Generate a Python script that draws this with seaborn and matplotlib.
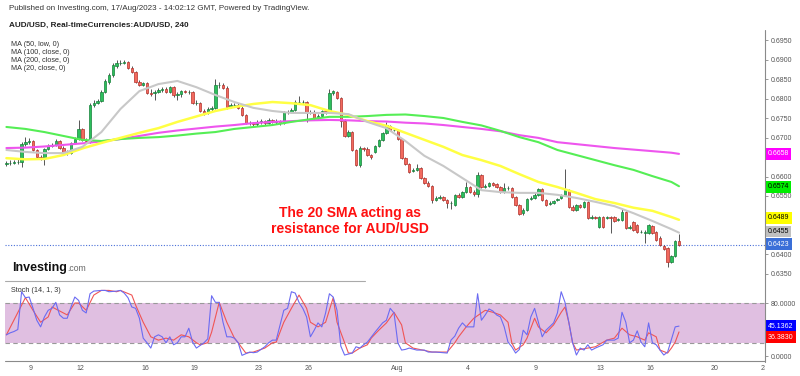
import numpy as np
import matplotlib
matplotlib.use("Agg")
import matplotlib.pyplot as plt
import seaborn as sns
from matplotlib.lines import Line2D
from matplotlib.transforms import blended_transform_factory, Bbox, TransformedBbox

sns.set_theme(style="white")
plt.rcParams['font.family'] = ['Liberation Sans', 'DejaVu Sans']

# AUD/USD 4h candles (7 Jul - 17 Aug 2023)
opens = [
    .6632, .6635, .6635, .6637, .6637, .6683, .6688, .6691, .6668, .6650,
    .6647, .6671, .6678, .6681, .6691, .6673, .6663, .6660, .6686, .6696,
    .6722, .6694, .6688, .6783, .6788, .6794, .6817, .6842, .6860, .6883,
    .6891, .6891, .6894, .6878, .6868, .6842, .6835, .6840, .6814, .6814,
    .6817, .6822, .6824, .6817, .6829, .6809, .6812, .6819, .6817, .6817,
    .6788, .6788, .6768, .6763, .6773, .6776, .6835, .6835, .6827, .6778,
    .6783, .6783, .6776, .6758, .6737, .6737, .6735, .6740, .6742, .6737,
    .6745, .6740, .6742, .6737, .6765, .6765, .6771, .6791, .6791, .6791,
    .6763, .6765, .6750, .6755, .6768, .6765, .6814, .6817, .6801, .6742,
    .6704, .6714, .6668, .6629, .6673, .6671, .6655, .6663, .6678, .6694,
    .6712, .6730, .6719, .6719, .6696, .6647, .6632, .6614, .6617, .6622,
    .6596, .6583, .6576, .6540, .6545, .6547, .6540, .6532, .6527, .6553,
    .6547, .6560, .6573, .6560, .6555, .6604, .6573, .6576, .6583, .6581,
    .6573, .6560, .6571, .6571, .6547, .6527, .6506, .6514, .6542, .6545,
    .6553, .6568, .6540, .6529, .6532, .6540, .6545, .6553, .6565, .6522,
    .6514, .6527, .6522, .6535, .6494, .6496, .6471, .6496, .6494, .6496,
    .6496, .6488, .6488, .6509, .6468, .6483, .6476, .6458, .6455, .6455,
    .6473, .6458, .6442, .6422, .6417, .6381, .6396, .6435]
highs = [
    .6640, .6642, .6642, .6645, .6688, .6701, .6699, .6694, .6671, .6655,
    .6673, .6683, .6686, .6696, .6694, .6678, .6668, .6688, .6701, .6745,
    .6724, .6699, .6788, .6796, .6799, .6822, .6850, .6865, .6891, .6899,
    .6899, .6899, .6896, .6883, .6871, .6847, .6842, .6842, .6824, .6822,
    .6827, .6829, .6829, .6832, .6832, .6817, .6822, .6822, .6822, .6819,
    .6796, .6791, .6773, .6778, .6781, .6850, .6842, .6840, .6832, .6788,
    .6788, .6788, .6781, .6760, .6742, .6740, .6745, .6747, .6745, .6750,
    .6747, .6747, .6745, .6768, .6771, .6776, .6796, .6806, .6796, .6794,
    .6771, .6771, .6760, .6771, .6771, .6824, .6822, .6819, .6804, .6747,
    .6719, .6717, .6671, .6678, .6676, .6676, .6658, .6681, .6696, .6714,
    .6740, .6732, .6724, .6722, .6699, .6650, .6635, .6622, .6632, .6624,
    .6599, .6588, .6578, .6550, .6553, .6550, .6542, .6537, .6555, .6558,
    .6563, .6586, .6576, .6565, .6612, .6606, .6581, .6586, .6586, .6583,
    .6576, .6583, .6576, .6573, .6550, .6529, .6519, .6545, .6550, .6560,
    .6571, .6571, .6542, .6537, .6540, .6545, .6555, .6619, .6568, .6527,
    .6529, .6529, .6537, .6537, .6501, .6499, .6499, .6499, .6499, .6499,
    .6499, .6494, .6517, .6512, .6476, .6486, .6478, .6463, .6463, .6478,
    .6476, .6460, .6447, .6424, .6419, .6399, .6437, .6453]
lows = [
    .6627, .6629, .6632, .6632, .6624, .6678, .6683, .6665, .6645, .6642,
    .6629, .6668, .6676, .6678, .6671, .6660, .6655, .6658, .6683, .6694,
    .6691, .6686, .6686, .6778, .6786, .6791, .6814, .6837, .6855, .6878,
    .6886, .6888, .6876, .6865, .6840, .6832, .6832, .6812, .6806, .6796,
    .6814, .6817, .6814, .6814, .6804, .6796, .6804, .6814, .6812, .6786,
    .6783, .6765, .6758, .6760, .6768, .6773, .6827, .6824, .6773, .6776,
    .6778, .6773, .6755, .6735, .6732, .6730, .6730, .6735, .6732, .6735,
    .6737, .6735, .6732, .6735, .6760, .6763, .6768, .6786, .6786, .6740,
    .6760, .6747, .6747, .6753, .6760, .6763, .6809, .6799, .6727, .6701,
    .6701, .6665, .6627, .6624, .6665, .6653, .6645, .6660, .6676, .6691,
    .6709, .6717, .6717, .6694, .6645, .6629, .6609, .6612, .6614, .6594,
    .6581, .6573, .6532, .6537, .6542, .6537, .6519, .6517, .6524, .6545,
    .6545, .6558, .6558, .6550, .6547, .6571, .6571, .6573, .6576, .6571,
    .6558, .6558, .6565, .6545, .6524, .6501, .6501, .6512, .6540, .6542,
    .6550, .6537, .6524, .6527, .6529, .6537, .6542, .6550, .6519, .6512,
    .6512, .6519, .6519, .6491, .6491, .6491, .6468, .6468, .6491, .6455,
    .6483, .6486, .6486, .6465, .6465, .6460, .6455, .6455, .6429, .6453,
    .6453, .6435, .6422, .6412, .6368, .6378, .6394, .6422]
closes = [
    .6635, .6635, .6637, .6637, .6683, .6688, .6691, .6668, .6650, .6647,
    .6671, .6678, .6681, .6691, .6673, .6663, .6660, .6686, .6696, .6722,
    .6694, .6691, .6783, .6788, .6794, .6817, .6845, .6860, .6886, .6891,
    .6891, .6894, .6878, .6868, .6842, .6835, .6840, .6814, .6812, .6817,
    .6822, .6824, .6817, .6829, .6809, .6812, .6819, .6817, .6817, .6788,
    .6788, .6768, .6763, .6773, .6776, .6835, .6835, .6827, .6778, .6783,
    .6783, .6776, .6758, .6737, .6737, .6735, .6740, .6742, .6737, .6745,
    .6740, .6742, .6737, .6765, .6765, .6771, .6791, .6791, .6791, .6763,
    .6765, .6750, .6755, .6768, .6765, .6814, .6819, .6801, .6742, .6704,
    .6714, .6668, .6629, .6673, .6671, .6655, .6650, .6678, .6694, .6712,
    .6732, .6719, .6719, .6696, .6647, .6632, .6612, .6617, .6622, .6596,
    .6583, .6576, .6540, .6545, .6547, .6540, .6532, .6532, .6553, .6547,
    .6560, .6573, .6560, .6555, .6604, .6573, .6576, .6583, .6578, .6573,
    .6560, .6571, .6571, .6547, .6527, .6504, .6514, .6542, .6545, .6553,
    .6568, .6540, .6527, .6532, .6537, .6542, .6553, .6565, .6522, .6514,
    .6527, .6522, .6535, .6494, .6496, .6494, .6496, .6471, .6496, .6494,
    .6486, .6491, .6509, .6468, .6471, .6463, .6458, .6458, .6458, .6476,
    .6455, .6437, .6424, .6414, .6381, .6396, .6435, .6424]

# moving averages (candle index, price)
ma_idx = [0, 5, 10, 15, 20, 25, 30, 35, 40, 45, 50, 55, 60, 65, 70, 75, 80, 85, 90,
          95, 100, 105, 110, 115, 120, 125, 130, 135, 140, 145, 150, 155, 160, 165,
          170, 175, 177]
ma20 = [.6668, .6663, .6660, .6660, .6676, .6714, .6773, .6819, .6837, .6845,
        .6829, .6809, .6791, .6776, .6768, .6763, .6763, .6763, .6760, .6740,
        .6724, .6691, .6653, .6627, .6596, .6565, .6560, .6558, .6558, .6553,
        .6545, .6535, .6524, .6506, .6486, .6465, .6456]
ma50_low = [.6647, .6644, .6645, .6655, .6672, .6686, .6699, .6712, .6724, .6740,
            .6754, .6768, .6778, .6786, .6791, .6788, .6783, .6768, .6758, .6742,
            .6730, .6712, .6694, .6676, .6655, .6642, .6627, .6606, .6586, .6573,
            .6558, .6542, .6532, .6520, .6512, .6496, .6489]
ma100 = [.6727, .6722, .6714, .6704, .6694, .6691, .6696, .6699, .6701, .6705,
         .6710, .6714, .6722, .6727, .6732, .6740, .6747, .6753, .6753, .6755,
         .6758, .6759, .6755, .6750, .6740, .6731, .6717, .6701, .6688, .6668,
         .6655, .6642, .6629, .6617, .6601, .6586, .6575]
ma200 = [.6673, .6674, .6677, .6681, .6685, .6690, .6696, .6704, .6712, .6718,
         .6723, .6728, .6732, .6737, .6740, .6742, .6744, .6745, .6744, .6742,
         .6741, .6738, .6736, .6732, .6727, .6722, .6716, .6706, .6699, .6688,
         .6683, .6678, .6673, .6669, .6665, .6661, .6658]

# stochastic (14,1,3): %K blue, %D red
stk_idx = [0, 1, 2, 3, 4, 5, 6, 7, 8, 9, 10, 11, 12, 13, 14, 15, 16, 17, 18, 19, 20,
           21, 22, 23, 25, 26, 27, 29, 30, 31, 32, 33, 34, 35, 36, 37, 38, 39, 40, 41,
           42, 43, 44, 45, 46, 47, 48, 49, 50, 52, 53, 54, 55, 56, 57, 58, 59, 60, 61,
           62, 64, 65, 66, 68, 69, 70, 71, 73, 74, 75, 76, 77, 78, 79, 80, 81, 82, 83,
           84, 85, 86, 87, 88, 89, 90, 91, 92, 93, 94, 95, 97, 99, 100, 101, 102, 103,
           104, 105, 106, 108, 110, 111, 113, 116, 117, 118, 119, 120, 121, 122, 123,
           124, 125, 126, 127, 128, 129, 130, 131, 132, 133, 134, 135, 136, 137, 138,
           139, 140, 141, 142, 144, 145, 146, 147, 148, 149, 150, 151, 152, 153, 154,
           155, 157, 158, 160, 161, 162, 163, 164, 165, 166, 167, 168, 169, 170, 171,
           172, 173, 174, 175, 176, 177]
stk_val = [32, 35, 37, 40, 97, 88, 89, 72, 54, 44, 59, 69, 72, 81, 62, 57, 57, 74, 89,
           84, 69, 65, 94, 98, 99, 99, 97, 98, 99, 95, 88, 74, 72, 57, 27, 20, 12, 29,
           32, 29, 20, 29, 17, 20, 29, 29, 42, 21, 12, 20, 26, 91, 81, 81, 51, 29, 29,
           27, 20, 1, 6, 5, 6, 14, 20, 24, 24, 69, 72, 97, 95, 81, 72, 59, 29, 39, 50,
           44, 65, 94, 89, 69, 15, 1.5, 3, 4.5, 14, 12, 17, 21, 36, 50, 54, 72, 65, 20,
           9, 10, 12, 9, 9, 6, 6, 4.5, 24, 30, 42, 50, 44, 44, 44, 94, 54, 62, 71, 68,
           62, 59, 44, 21, 14, 4.5, 10, 39, 32, 59, 72, 51, 29, 39, 50, 65, 97, 81, 51,
           20, 1.5, 12, 9, 17, 9, 12, 17, 24, 24, 27, 66, 51, 20, 24, 38, 21, 14, 50,
           20, 17, 9, 1.5, 6, 25, 44, 45.1362]
std_idx = [0, 5, 7, 9, 11, 12, 15, 16, 18, 19, 21, 23, 25, 27, 29, 30, 33, 34, 36, 38,
           40, 42, 44, 46, 48, 50, 51, 53, 54, 56, 58, 60, 61, 63, 65, 68, 70, 71, 73,
           75, 77, 79, 80, 82, 84, 86, 87, 89, 90, 91, 93, 95, 96, 98, 100, 102, 104,
           105, 107, 112, 116, 118, 119, 121, 123, 125, 126, 128, 130, 132, 133, 134,
           136, 137, 139, 140, 142, 144, 146, 147, 148, 149, 150, 153, 155, 158, 160,
           162, 164, 166, 168, 169, 171, 172, 174, 175, 176, 177]
std_val = [32, 88, 69, 51, 59, 74, 65, 62, 80, 80, 69, 92, 99, 99, 97, 99, 92, 77, 51,
           29, 24, 27, 24, 32, 29, 20, 17, 20, 36, 81, 51, 27, 20, 4.5, 6, 12, 20, 21,
           51, 72, 92, 72, 51, 44, 51, 88, 51, 20, 4.5, 4.5, 12, 17, 27, 39, 50, 66, 47,
           20, 12, 6, 6, 20, 29, 44, 57, 65, 69, 66, 62, 51, 20, 9, 17, 27, 57, 44, 35,
           47, 66, 74, 51, 20, 9, 12, 14, 24, 27, 42, 32, 29, 24, 35, 29, 9, 4.5, 12,
           21, 36.383]

price_ticks = [.6350, .6400, .6450, .6500, .6550, .6600, .6650, .6700, .6750, .6800,
               .6850, .6900, .6950]
# labels hidden behind the value boxes in the original are left blank
price_labels = ['0.6350', '0.6400', '', '', '0.6550', '0.6600', '', '0.6700', '0.6750',
                '0.6800', '0.6850', '0.6900', '0.6950']
day_labels = ['9', '12', '16', '19', '23', '26', 'Aug', '4', '9', '13', '16', '20', '23']
day_pos = [6.5, 19.5, 36.5, 49.5, 66.5, 79.5, 102.8, 121.4, 139.3, 156.3, 169.4, 186.3, 199.4]

W, H = 800, 376
fig = plt.figure(figsize=(8, 3.76), dpi=100)
fig.patch.set_facecolor('white')


def fx(px):
    return px / W


def fy(py):
    return 1 - py / H


ax = fig.add_axes([fx(5), fy(280), fx(765) - fx(5), fy(28) - fy(280)])
ax2 = fig.add_axes([fx(5), fy(361), fx(765) - fx(5), fy(283) - fy(361)])

o = np.array(opens); h = np.array(highs); l = np.array(lows); c = np.array(closes)
idx = np.arange(len(c))
up = c >= o

# candles
ax.vlines(idx, l, h, color='#3a3a3a', lw=0.6, zorder=2)
ax.bar(idx[up], (c - o)[up], bottom=o[up], width=0.66, color='#2cbf5c',
       edgecolor='#16803a', lw=0.5, zorder=2.5)
ax.bar(idx[~up], (o - c)[~up], bottom=c[~up], width=0.66, color='#f26a5e',
       edgecolor='#b5302a', lw=0.5, zorder=2.5)

# moving averages
sns.lineplot(x=ma_idx, y=ma200, ax=ax, color='#ee55ee', linewidth=1.5, zorder=3)
sns.lineplot(x=ma_idx, y=ma100, ax=ax, color='#55ee55', linewidth=1.5, zorder=3)
sns.lineplot(x=ma_idx, y=ma50_low, ax=ax, color='#ffff44', linewidth=1.8, zorder=3)
sns.lineplot(x=ma_idx, y=ma20, ax=ax, color='#c8c8c8', linewidth=1.5, zorder=3)

ax.axhline(closes[-1], color='#4a70d8', ls=(0, (1, 1.5)), lw=0.8, zorder=1)

ax.set_xlim(-0.37, 199.63)
ax.set_ylim(0.63346, 0.69808)
ax.set_xticks([])
ax.set_yticks(price_ticks)
ax.set_yticklabels(price_labels)
ax.yaxis.tick_right()
ax.tick_params(axis='y', right=True, length=2.5, width=0.6, color='#888',
               labelsize=5, labelcolor='#555', pad=1.5)
for s in ax.spines.values():
    s.set_visible(False)
ax.set_xlabel('')
ax.set_ylabel('')

# value boxes on the price axis
bt = blended_transform_factory(ax.transAxes, ax.transData)
boxes = [(0.6658, 0.6658, '#ff00ff', 'white'), (0.6574, 0.6574, '#00ee00', 'black'),
         (0.6489, 0.6494, '#ffff00', 'black'), (0.6455, 0.6459, '#c0c0c0', 'black'),
         (0.6423, 0.6426, '#3a6fd8', 'white')]
for val, ypos, fc, tc in boxes:
    ax.text(1.0035, ypos, '%.4f' % val, transform=bt, ha='left', va='center',
            fontsize=5, color=tc, zorder=10, clip_on=False,
            bbox=dict(boxstyle='square,pad=0.35', fc=fc, ec='none'))

# stochastic panel
ax2.axhspan(20, 80, color='#e0bfe1', zorder=0, lw=0)
ax2.axhline(80, color='#999999', ls=(0, (4, 3)), lw=0.8, zorder=1)
ax2.axhline(20, color='#999999', ls=(0, (4, 3)), lw=0.8, zorder=1)
sns.lineplot(x=std_idx, y=std_val, ax=ax2, color='#f05555', linewidth=0.8, zorder=3)
sns.lineplot(x=stk_idx, y=stk_val, ax=ax2, color='#6b6bf2', linewidth=0.8, zorder=4)
ax2.set_xlim(-0.37, 199.63)
ax2.set_ylim(-7.5, 110.2)
ax2.set_yticks([0, 80])
ax2.set_yticklabels(['0.0000', '80.0000'])
ax2.yaxis.tick_right()
ax2.tick_params(axis='y', right=True, length=2.5, width=0.6, color='#888',
                labelsize=5, labelcolor='#555', pad=1.5)
ax2.set_xticks(day_pos)
ax2.set_xticklabels(day_labels)
ax2.tick_params(axis='x', bottom=True, length=0, labelsize=5, labelcolor='#555', pad=3)
for s in ax2.spines.values():
    s.set_visible(False)
ax2.set_xlabel('')
ax2.set_ylabel('')
clip = TransformedBbox(Bbox([[0, 0], [fx(765), 1]]), fig.transFigure)
for lbl in ax2.get_xticklabels():
    lbl.set_clip_box(clip)
    lbl.set_clip_on(True)

bt2 = blended_transform_factory(ax2.transAxes, ax2.transData)
ax2.text(1.0035, stk_val[-1], '45.1362', transform=bt2, ha='left', va='center',
         fontsize=5, color='white', zorder=10, clip_on=False,
         bbox=dict(boxstyle='square,pad=0.35', fc='#0000ff', ec='none'))
ax2.annotate('36.3830', xy=(1.0035, std_val[-1]), xycoords=bt2, xytext=(0, -3.8),
             textcoords='offset points', ha='left', va='center', fontsize=5,
             color='white', zorder=10, annotation_clip=False,
             bbox=dict(boxstyle='square,pad=0.35', fc='#ff0000', ec='none'))

# axis lines
fig.add_artist(Line2D([fx(765), fx(765)], [fy(30), fy(362)], color='#8a8a8a', lw=0.8))
fig.add_artist(Line2D([fx(5), fx(765)], [fy(361), fy(361)], color='#8a8a8a', lw=0.8))
fig.add_artist(Line2D([fx(5), fx(365)], [fy(281), fy(281)], color='#aaaaaa', lw=0.8))

# header texts
fig.text(fx(9), fy(9), 'Published on Investing.com, 17/Aug/2023 - 14:02:12 GMT, Powered by TradingView.',
         fontsize=5.8, color='#333333', va='center')
fig.text(fx(9), fy(25), 'AUD/USD, Real-timeCurrencies:AUD/USD, 240',
         fontsize=5.9, color='#222222', va='center', weight='bold')
for k, t in enumerate(['MA (50, low, 0)', 'MA (100, close, 0)', 'MA (200, close, 0)',
                       'MA (20, close, 0)']):
    fig.text(fx(11), fy(45 + 8 * k), t, fontsize=5.2, color='#333333', va='center')
fig.text(fx(11), fy(291), 'Stoch (14, 1, 3)', fontsize=5.2, color='#333333', va='center')

fig.text(fx(12), fy(271), 'Investing', fontsize=9.0, weight='bold', color='#111111',
         va='baseline')
fig.text(fx(67.5), fy(271), '.com', fontsize=6.2, color='#666666', va='baseline')

fig.text(fx(350), fy(221), 'The 20 SMA acting as\nresistance for AUD/USD', ha='center',
         va='center', fontsize=10, weight='bold', color='#ff1010', linespacing=1.15)

fig.savefig('out.png', dpi=100, facecolor='white')
